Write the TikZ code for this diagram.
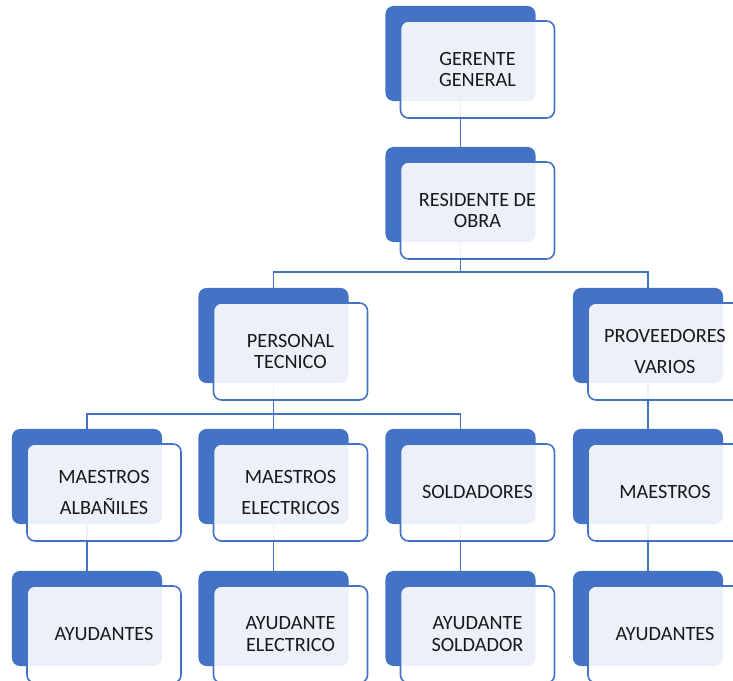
\documentclass[tikz,border=0pt]{standalone}
\usepackage{fontspec}
\setmainfont{Carlito}
\usetikzlibrary{calc,backgrounds}
\definecolor{accent}{HTML}{4472C4}
\tikzset{
	back/.style={fill=accent, rounded corners=0.2cm, minimum width=3.75cm, minimum height=2.375cm, inner sep=0pt},
	front/.style={draw=accent, line width=0.04cm, fill=white, fill opacity=0.9, text opacity=1, rounded corners=0.2cm,
		minimum width=3.85cm, minimum height=2.425cm, inner sep=0pt, align=center, text=black!90,
		font=\fontsize{14.4}{15.6}\selectfont},
	link/.style={draw=accent, line width=0.045cm}
}
% back box named #1, front box with the label named #1-f
\def\orgbox(#1)(#2,#3)#4{\node[back] (#1) at (#2,#3) {}; \node[front] (#1-f) at ($(#1)+(17,16)$) {#4};}

\begin{document}
\begin{tikzpicture}[x=0.025cm, y=-0.025cm]
				\useasboundingbox (0,0) rectangle (733,681);
				
				\orgbox(gg)(460.5,53.5){GERENTE\\GENERAL}
				\orgbox(ro)(460.5,194.5){RESIDENTE DE\\OBRA}
				
				\orgbox(pt)(273.5,335.5){PERSONAL\\TECNICO}
				\orgbox(pv)(648,335.5){PROVEEDORES\\[6.4pt]VARIOS}
				
				\orgbox(ma)(87,476.5){MAESTROS\\[6.4pt]ALBAÑILES}
				\orgbox(me)(273.5,476.5){MAESTROS\\[6.4pt]ELECTRICOS}
				\orgbox(so)(460.5,476.5){SOLDADORES}
				\orgbox(mm)(648,476.5){MAESTROS}
				
				\orgbox(a1)(87,618.5){AYUDANTES}
				\orgbox(a2)(273.5,618.5){AYUDANTE\\ELECTRICO}
				\orgbox(a3)(460.5,618.5){AYUDANTE\\SOLDADOR}
				\orgbox(a4)(648,618.5){AYUDANTES}
				
				\begin{pgfonlayer}{background}
					\coordinate (bus1) at (460.5,272);
					\coordinate (bus2) at (273.5,414);
					
					\draw[link] (gg.center) -- (ro.center);
					\draw[link] (ro.center) -- (bus1);
					\draw[link] (pt.center) |- (bus1) -| (pv.center);
					
					\draw[link] (pt.center) -- (bus2);
					\draw[link] (ma.center) |- (bus2) -| (so.center);
					\draw[link] (bus2) -- (me.center);
					\draw[link] (pv.center) -- (mm.center);
					
					\draw[link] (ma.center) -- (a1.center);
					\draw[link] (me.center) -- (a2.center);
					\draw[link] (so.center) -- (a3.center);
					\draw[link] (mm.center) -- (a4.center);
				\end{pgfonlayer}
			\end{tikzpicture}
\end{document}
